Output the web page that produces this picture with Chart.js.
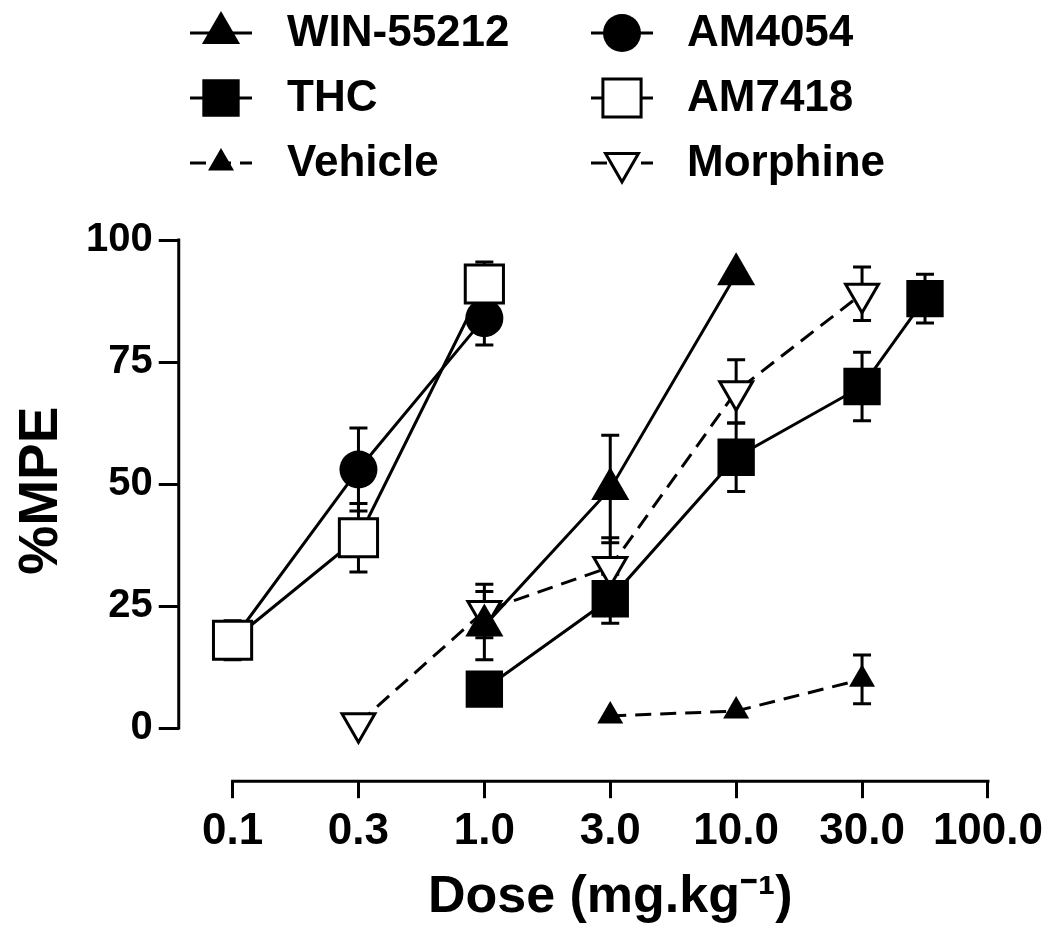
<!DOCTYPE html>
<html>
<head>
<meta charset="utf-8">
<script src="https://cdn.jsdelivr.net/npm/chart.js@4.4.1/dist/chart.umd.min.js"></script>
<style>
  html, body { margin: 0; padding: 0; background: #fff; }
</style>
</head>
<body>
<canvas id="graficoDose" width="1050" height="932"></canvas>
<script>
// Eixo X: posições em meia-década (0 = 0.1 ... 6 = 100.0)
const doseLabels = ['0.1', '0.3', '1.0', '3.0', '10.0', '30.0', '100.0'];
const mpeTicks = [0, 25, 50, 75, 100];
const xTitle = 'Dose (mg.kg⁻¹)';
const yTitle = '%MPE';

const winX = [2, 3, 4];
const winMPE = [21, 49, 93];
const winSEM = [7, 11, 0];

const thcX = [2, 3, 4, 5, 5.5];
const thcMPE = [8, 26.5, 55.5, 70, 88];
const thcSEM = [2, 5, 7, 7, 5];

const vehX = [3, 4, 5];
const vehMPE = [2.5, 3.5, 10];
const vehSEM = [0, 0, 5];

const am4054X = [0, 1, 2];
const am4054MPE = [18, 53, 84];
const am4054SEM = [3, 8.5, 5.5];

const am7418X = [0, 1, 2];
const am7418MPE = [18, 39, 91];
const am7418SEM = [4, 7, 4.5];

const morX = [1, 2, 3, 4, 5];
const morMPE = [1, 24, 33, 69, 89];
const morSEM = [0, 5.5, 6, 6.5, 5.5];

const FONT = '"Liberation Sans", Arial, Helvetica, sans-serif';
const pts = (xs, ys) => xs.map((x, i) => ({ x: x, y: ys[i] }));

function serie(label, xs, ys, sem, style) {
    return Object.assign({
        label: label,
        data: pts(xs, ys),
        sem: sem,
        borderColor: '#000',
        borderWidth: 3,
        pointBorderColor: '#000',
        pointBackgroundColor: '#000',
        pointBorderWidth: 0,
        pointRotation: 0,
        fill: false,
        tension: 0,
        clip: false
    }, style);
}

// ordem: o primeiro dataset fica por cima
const datasets = [
    serie('THC', thcX, thcMPE, thcSEM, { pointStyle: 'rect', pointRadius: 25, pointBorderWidth: 2 }),
    serie('WIN-55212', winX, winMPE, winSEM, { pointStyle: 'triangle', pointRadius: 22 }),
    serie('AM7418', am7418X, am7418MPE, am7418SEM, { pointStyle: 'rect', pointRadius: 27, pointBackgroundColor: '#fff', pointBorderWidth: 3 }),
    serie('AM4054', am4054X, am4054MPE, am4054SEM, { pointStyle: 'circle', pointRadius: 19 }),
    serie('Morphine', morX, morMPE, morSEM, { pointStyle: 'triangle', pointRadius: 19, pointRotation: 180, pointBackgroundColor: '#fff', pointBorderWidth: 3, borderDash: [16, 9] }),
    serie('Vehicle', vehX, vehMPE, vehSEM, { pointStyle: 'triangle', pointRadius: 15, borderDash: [16, 9] })
];

// barras de erro (SEM)
const errorBars = {
    id: 'errorBars',
    beforeDatasetsDraw(chart) {
        const ctx = chart.ctx, xs = chart.scales.x, ys = chart.scales.y;
        ctx.save();
        ctx.strokeStyle = '#000';
        ctx.lineWidth = 3;
        ctx.setLineDash([]);
        chart.data.datasets.forEach(ds => {
            ds.data.forEach((p, i) => {
                const e = ds.sem[i];
                if (!e) return;
                const px = xs.getPixelForValue(p.x);
                const top = ys.getPixelForValue(p.y + e);
                const bot = ys.getPixelForValue(p.y - e);
                ctx.beginPath();
                ctx.moveTo(px, top); ctx.lineTo(px, bot);
                ctx.moveTo(px - 9, top); ctx.lineTo(px + 9, top);
                ctx.moveTo(px - 9, bot); ctx.lineTo(px + 9, bot);
                ctx.stroke();
            });
        });
        ctx.restore();
    }
};

// eixos separados, estilo Prism, e título do eixo X centrado na linha do eixo
const prismAxes = {
    id: 'prismAxes',
    afterDraw(chart) {
        const ctx = chart.ctx, xs = chart.scales.x, ys = chart.scales.y, a = chart.chartArea;
        const x0 = xs.getPixelForValue(0), x1 = xs.getPixelForValue(doseLabels.length - 1);
        ctx.save();
        ctx.strokeStyle = '#000';
        ctx.lineWidth = 3;
        ctx.beginPath();
        ctx.moveTo(a.left, ys.getPixelForValue(mpeTicks[0]) + 1.5);
        ctx.lineTo(a.left, ys.getPixelForValue(mpeTicks[mpeTicks.length - 1]) - 1.5);
        ctx.moveTo(x0 - 1.5, a.bottom);
        ctx.lineTo(x1 + 1.5, a.bottom);
        ctx.stroke();
        ctx.fillStyle = '#000';
        ctx.font = 'bold 52px ' + FONT;
        ctx.textAlign = 'center';
        ctx.textBaseline = 'middle';
        ctx.fillText(xTitle, (x0 + x1) / 2, a.bottom + 116);
        ctx.restore();
    }
};

// legenda em duas colunas
const legendOrder = ['WIN-55212', 'AM4054', 'THC', 'AM7418', 'Vehicle', 'Morphine'];
const legenda = {
    id: 'legenda',
    afterDraw(chart) {
        const ctx = chart.ctx;
        const colMark = [221, 622], colText = [287, 687], rowY = [33, 98, 163];
        legendOrder.forEach((name, k) => {
            const ds = chart.data.datasets.find(d => d.label === name);
            const cx = colMark[k % 2], cy = rowY[Math.floor(k / 2)];
            ctx.save();
            ctx.strokeStyle = '#000';
            ctx.lineWidth = 3;
            ctx.setLineDash(ds.borderDash || []);
            ctx.beginPath();
            ctx.moveTo(cx - 31, cy); ctx.lineTo(cx + 31, cy);
            ctx.stroke();
            ctx.setLineDash([]);
            ctx.fillStyle = ds.pointBackgroundColor;
            ctx.strokeStyle = '#000';
            ctx.lineWidth = ds.pointBorderWidth;
            Chart.helpers.drawPoint(ctx, {
                pointStyle: ds.pointStyle,
                radius: ds.pointRadius,
                rotation: ds.pointRotation,
                borderWidth: ds.pointBorderWidth
            }, cx, cy);
            ctx.fillStyle = '#000';
            ctx.font = 'bold 44px ' + FONT;
            ctx.textBaseline = 'middle';
            ctx.textAlign = 'left';
            ctx.fillText(name, colText[k % 2], cy + 1);
            ctx.restore();
        });
    }
};

new Chart(document.getElementById('graficoDose'), {
    type: 'line',
    data: { datasets: datasets },
    plugins: [errorBars, prismAxes, legenda],
    options: {
        responsive: false,
        animation: false,
        devicePixelRatio: 1,
        layout: { padding: { left: 4, right: 60, top: 200, bottom: 67 } },
        plugins: { legend: { display: false }, tooltip: { enabled: false } },
        scales: {
            x: {
                type: 'linear',
                min: -0.4275,
                max: 6,
                afterBuildTicks: s => { s.ticks = doseLabels.map((_, i) => ({ value: i })); },
                ticks: {
                    callback: v => doseLabels[v],
                    autoSkip: false, maxRotation: 0,
                    color: '#000', padding: 7,
                    font: { family: FONT, weight: 'bold', size: 44 }
                },
                grid: { drawOnChartArea: false, drawTicks: true, tickLength: 17, lineWidth: 3, color: '#000' },
                border: { display: false }
            },
            y: {
                type: 'linear',
                min: -10.88,
                max: 108.21,
                afterBuildTicks: s => { s.ticks = mpeTicks.map(v => ({ value: v })); },
                ticks: {
                    color: '#000', padding: 6,
                    font: { family: FONT, weight: 'bold', size: 40 }
                },
                grid: { drawOnChartArea: false, drawTicks: true, tickLength: 20, lineWidth: 3, color: '#000' },
                border: { display: false },
                title: {
                    display: true, text: yTitle, color: '#000',
                    font: { family: FONT, weight: 'bold', size: 55 },
                    padding: { top: 5, bottom: 5 }
                }
            }
        }
    }
});
</script>
</body>
</html>
